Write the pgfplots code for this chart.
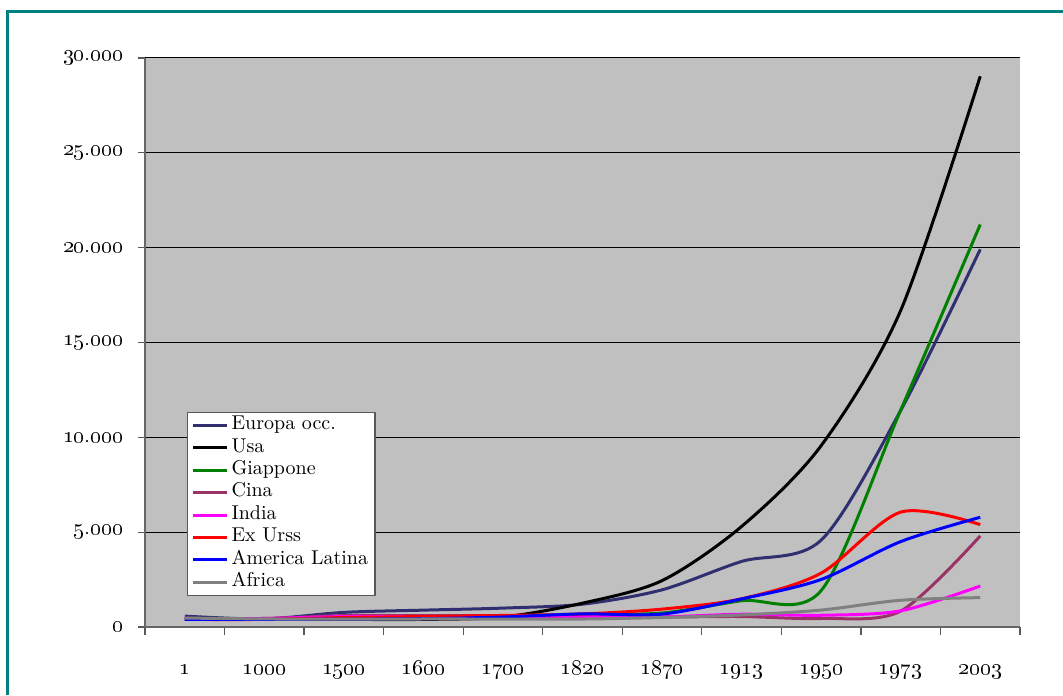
\documentclass[border=0pt]{standalone}
\usepackage{pgfplots}
\pgfplotsset{compat=1.18}

\definecolor{frameteal}{RGB}{0,128,128}
\definecolor{plotbg}{RGB}{192,192,192}
\definecolor{europa}{RGB}{48,48,112}
\definecolor{giappone}{RGB}{0,128,0}
\definecolor{cina}{RGB}{153,51,102}
\definecolor{india}{RGB}{255,0,255}
\definecolor{urss}{RGB}{255,0,0}
\definecolor{latam}{RGB}{0,0,255}
\definecolor{africa}{RGB}{128,128,128}

% GDP per capita (1990 int. dollars), benchmark years 1 ... 2003
\newcommand{\osn}[1]{\oldstylenums{#1}}

\begin{document}
\begin{tikzpicture}
\useasboundingbox (0,0) rectangle (531.5pt,347.5pt);
% outer frame (left and top edges)
\draw[frameteal, line width=1.5pt] (3.8pt,0) -- (3.8pt,341.8pt) -- (531.5pt,341.8pt);
\begin{axis}[
  at={(72.5pt,34pt)}, anchor=south west,
  scale only axis, width=437.5pt, height=284.5pt,
  xmin=-0.5, xmax=10.5, ymin=0, ymax=30000,
  scaled y ticks=false,
  axis background/.style={fill=plotbg},
  axis lines*=left,
  axis line style={draw=gray!80!black, line width=0.6pt},
  xtick={0,...,10},
  xticklabels={\osn{1},\osn{1000},\osn{1500},\osn{1600},\osn{1700},\osn{1820},\osn{1870},\osn{1913},\osn{1950},\osn{1973},\osn{2003}},
  major x tick style={draw=none},
  minor xtick={-0.5,0.5,...,10.5},
  minor tick length=4pt,
  minor x tick style={draw=gray!70!black, line width=0.6pt},
  tick align=outside,
  ytick={0,5000,...,30000},
  yticklabels={\osn{0},\osn{5.000},\osn{10.000},\osn{15.000},\osn{20.000},\osn{25.000},\osn{30.000}},
  major tick length=3.5pt,
  major y tick style={draw=gray!70!black, line width=0.6pt},
  ymajorgrids,
  grid style={black, line width=0.5pt},
  xticklabel style={anchor=base, yshift=-20pt, font=\fontsize{11}{13}\selectfont},
  yticklabel style={anchor=east, inner sep=0pt, xshift=-7pt, font=\fontsize{11}{13}\selectfont},
  every axis plot/.append style={line width=1.5pt, smooth, no markers},
  legend style={at={(0.0480,0.0544)}, anchor=south west,
    draw=gray!70!black, line width=0.6pt, fill=white,
    inner xsep=2pt, inner ysep=1pt, row sep=0pt,
    font=\fontsize{10}{11}\selectfont,
    nodes={inner xsep=1.5pt, inner ysep=0pt, text height=7.7pt, text depth=3.5pt}},
  legend cell align=left,
  legend image code/.code={\draw[#1, line width=1.5pt] (0pt,0pt) -- (17pt,0pt);},
]
\addplot[europa] coordinates {(0,576) (1,427) (2,771) (3,889) (4,997) (5,1202) (6,1960) (7,3457) (8,4578) (9,11416) (10,19912)};
\addplot[black] coordinates {(0,400) (1,400) (2,400) (3,400) (4,527) (5,1257) (6,2445) (7,5301) (8,9561) (9,16689) (10,29037)};
\addplot[giappone] coordinates {(0,400) (1,425) (2,500) (3,520) (4,570) (5,669) (6,737) (7,1387) (8,1921) (9,11434) (10,21218)};
\addplot[cina] coordinates {(0,450) (1,450) (2,600) (3,600) (4,600) (5,600) (6,530) (7,552) (8,448) (9,838) (10,4803)};
\addplot[india] coordinates {(0,450) (1,450) (2,550) (3,550) (4,550) (5,533) (6,533) (7,673) (8,619) (9,853) (10,2160)};
\addplot[urss] coordinates {(0,400) (1,400) (2,499) (3,552) (4,610) (5,688) (6,943) (7,1488) (8,2841) (9,6059) (10,5397)};
\addplot[latam] coordinates {(0,400) (1,400) (2,416) (3,438) (4,527) (5,692) (6,681) (7,1481) (8,2506) (9,4504) (10,5786)};
\addplot[africa] coordinates {(0,472) (1,425) (2,414) (3,422) (4,421) (5,420) (6,500) (7,637) (8,894) (9,1410) (10,1549)};
\legend{Europa occ.,Usa,Giappone,Cina,India,Ex Urss,America Latina,Africa}
\end{axis}
\end{tikzpicture}
\end{document}
